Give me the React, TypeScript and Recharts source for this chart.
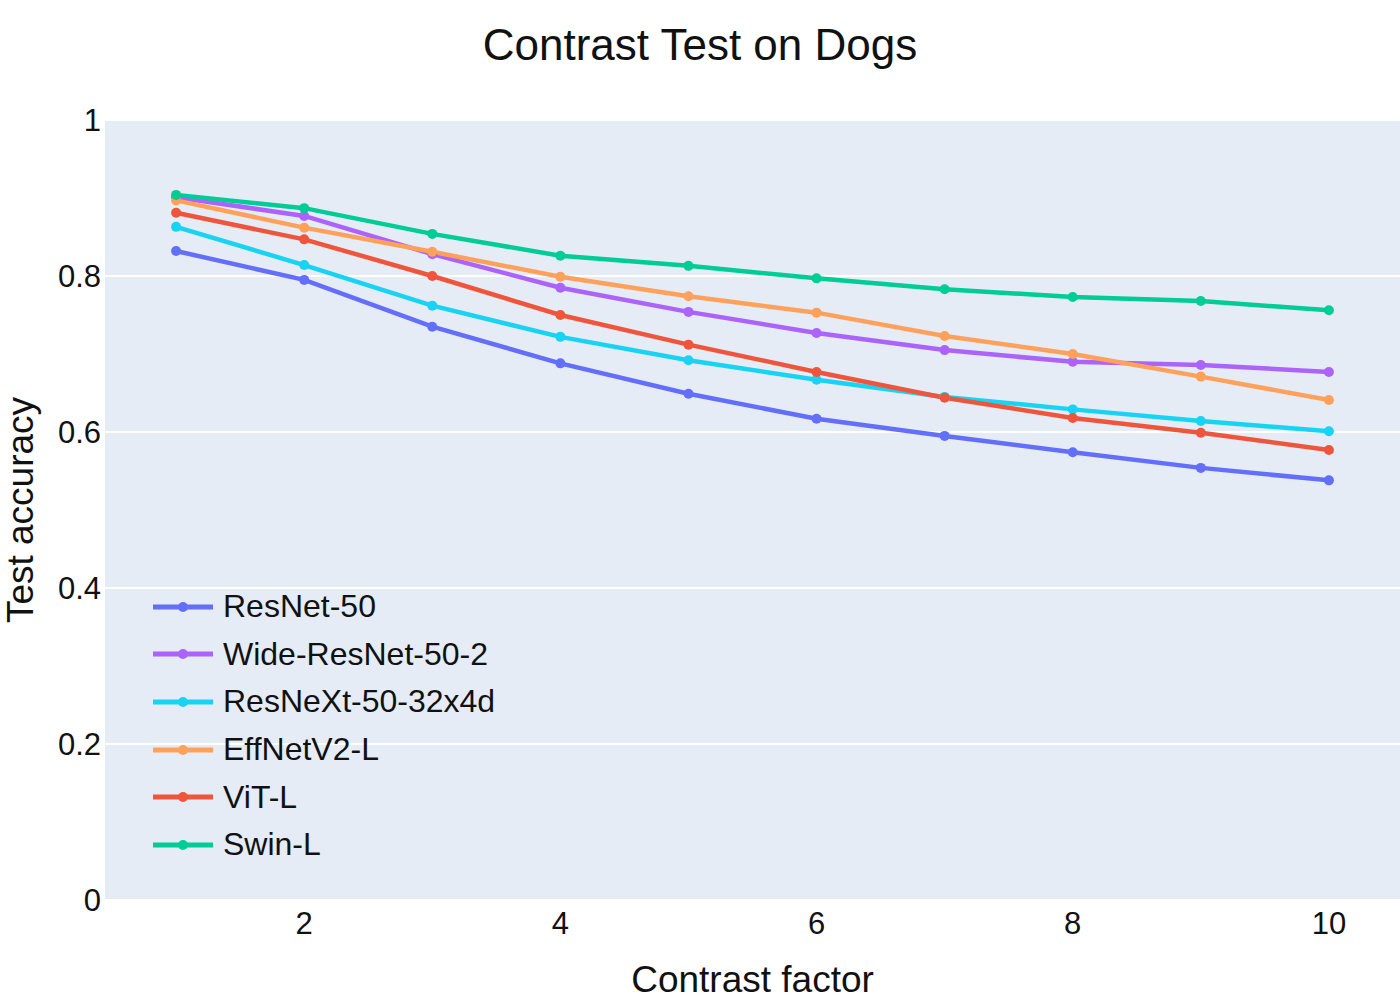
import React from 'react';
import { LineChart, Line, XAxis, YAxis, CartesianGrid } from 'recharts';

const contrastFactors = [1, 2, 3, 4, 5, 6, 7, 8, 9, 10];

const resnet50 = [0.832, 0.795, 0.735, 0.688, 0.649, 0.617, 0.595, 0.574, 0.554, 0.538];
const wideResnet = [0.901, 0.877, 0.828, 0.785, 0.754, 0.727, 0.705, 0.690, 0.686, 0.677];
const resnext = [0.863, 0.814, 0.762, 0.722, 0.692, 0.667, 0.645, 0.629, 0.614, 0.601];
const effnet = [0.897, 0.862, 0.831, 0.799, 0.774, 0.753, 0.723, 0.700, 0.671, 0.641];
const vit = [0.881, 0.847, 0.800, 0.750, 0.712, 0.677, 0.644, 0.618, 0.599, 0.577];
const swin = [0.904, 0.887, 0.854, 0.826, 0.813, 0.797, 0.783, 0.773, 0.768, 0.756];

const xTicks = [2, 4, 6, 8, 10];
const yTicks = [0, 0.2, 0.4, 0.6, 0.8, 1];

const SERIES = [
  { key: 'resnet50', name: 'ResNet-50', values: resnet50, color: '#636efa' },
  { key: 'wideResnet', name: 'Wide-ResNet-50-2', values: wideResnet, color: '#ab63fa' },
  { key: 'resnext', name: 'ResNeXt-50-32x4d', values: resnext, color: '#19d3f3' },
  { key: 'effnet', name: 'EffNetV2-L', values: effnet, color: '#ffa15a' },
  { key: 'vit', name: 'ViT-L', values: vit, color: '#ef553b' },
  { key: 'swin', name: 'Swin-L', values: swin, color: '#00cc96' },
];

const data = contrastFactors.map((x, i) => {
  const row: Record<string, number> = { x };
  SERIES.forEach(s => { row[s.key] = s.values[i]; });
  return row;
});

const FONT = 'Liberation Sans, Arial, sans-serif';

// legend drawn like plotly's: line with a marker in the middle, placed inside the plot
const ChartLegend = () => (
  <div style={{ position: 'absolute', left: 152, top: 583, pointerEvents: 'none' }}>
    {SERIES.map(s => (
      <div key={s.key} style={{ display: 'flex', alignItems: 'center', height: 47.6 }}>
        <svg width={62} height={20} style={{ marginRight: 9 }}>
          <line x1={1} y1={10} x2={61} y2={10} stroke={s.color} strokeWidth={5} />
          <circle cx={31} cy={10} r={5} fill={s.color} />
        </svg>
        <span style={{ fontFamily: FONT, fontSize: 32, color: '#111' }}>{s.name}</span>
      </div>
    ))}
  </div>
);

const App = () => {
  return (
    <div style={{ position: 'absolute', left: 0, top: 0, width: 1400, height: 1000, background: '#fff' }}>
      <div
        style={{
          position: 'absolute', left: 0, top: 20, width: 1400, textAlign: 'center',
          fontFamily: FONT, fontSize: 44, color: '#111',
        }}
      >
        Contrast Test on Dogs
      </div>
      <LineChart width={1400} height={1000} data={data} margin={{ top: 120, right: 0, bottom: 0, left: 0 }}>
        <CartesianGrid fill="#e5ecf6" stroke="#ffffff" strokeWidth={2} vertical={false} />
        <XAxis
          dataKey="x"
          type="number"
          domain={[0.445, 10.555]}
          ticks={xTicks}
          allowDataOverflow
          axisLine={false}
          tickLine={false}
          tickSize={0}
          tickMargin={12}
          height={100}
          tick={{ fontFamily: FONT, fontSize: 31, fill: '#111' }}
          label={{ value: 'Contrast factor', position: 'insideBottom', offset: 8, style: { fontFamily: FONT, fontSize: 37, fill: '#111' } }}
        />
        <YAxis
          type="number"
          domain={[0, 1]}
          ticks={yTicks}
          width={105}
          axisLine={false}
          tickLine={false}
          tickSize={0}
          tickMargin={4}
          tickFormatter={(v: number) => (v === 0 || v === 1 ? String(v) : v.toFixed(1))}
          tick={{ fontFamily: FONT, fontSize: 31, fill: '#111' }}
          label={{ value: 'Test accuracy', angle: -90, position: 'insideLeft', offset: 20, style: { fontFamily: FONT, fontSize: 37, fill: '#111', textAnchor: 'middle' } }}
        />
        {SERIES.map(s => (
          <Line
            key={s.key}
            dataKey={s.key}
            name={s.name}
            stroke={s.color}
            strokeWidth={4.5}
            dot={{ r: 5, fill: s.color, stroke: s.color, strokeWidth: 0 }}
            activeDot={false}
            isAnimationActive={false}
          />
        ))}
      </LineChart>
      <ChartLegend />
    </div>
  );
};

export default App;
